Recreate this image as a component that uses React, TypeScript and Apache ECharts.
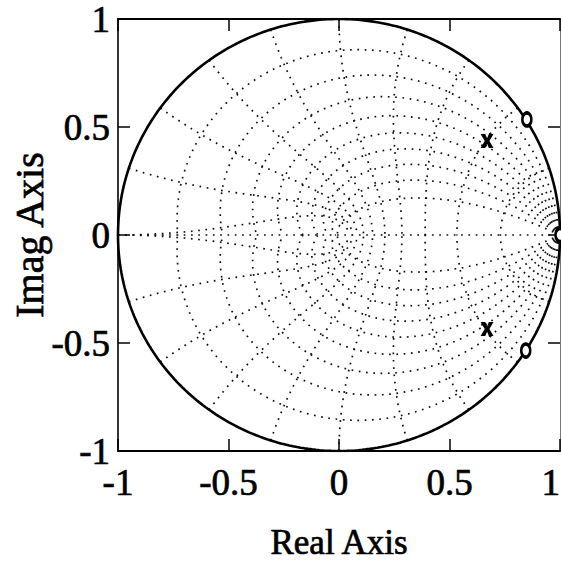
import { useEffect, useRef } from 'react';
import * as echarts from 'echarts';

// Axis ticks
const xTickValues = [-1, -0.5, 0, 0.5, 1];
const yTickValues = [-1, -0.5, 0, 0.5, 1];

// zgrid parameters: damping ratios and normalised natural frequencies
const zetaValues = [0.1, 0.2, 0.3, 0.4, 0.5, 0.6, 0.7, 0.8, 0.9];
const wnValues = [0.1, 0.2, 0.3, 0.4, 0.5, 0.6, 0.7, 0.8, 0.9, 1.0];

// Poles (x) and zeros (o)
const poleRe = [0.67, 0.67];
const poleIm = [0.435, -0.435];
const zeroRe = [0.85, 0.845, 1.0];
const zeroIm = [0.535, -0.535, 0];

const FONT = '"Liberation Serif", "Times New Roman", "DejaVu Serif", serif';
const STEPS = 60;

function zetaCurve(zeta: number, sign: number): number[][] {
  const m = zeta / Math.sqrt(1 - zeta * zeta);
  const pts: number[][] = [];
  for (let k = 0; k <= STEPS; k++) {
    const th = (Math.PI * k) / STEPS;
    const r = Math.exp(-m * th);
    pts.push([r * Math.cos(th), sign * r * Math.sin(th)]);
  }
  return pts;
}

function wnCurve(wn: number, sign: number): number[][] {
  const pts: number[][] = [];
  for (let k = 0; k <= STEPS; k++) {
    const phi = Math.PI / 2 + (Math.PI / 2) * (k / STEPS);
    const sr = wn * Math.PI * Math.cos(phi);
    const si = wn * Math.PI * Math.sin(phi);
    const r = Math.exp(sr);
    pts.push([r * Math.cos(si), sign * r * Math.sin(si)]);
  }
  return pts;
}

function unitCircle(): number[][] {
  const pts: number[][] = [];
  for (let k = 0; k <= 360; k++) {
    const a = (Math.PI * 2 * k) / 360;
    pts.push([Math.cos(a), Math.sin(a)]);
  }
  return pts;
}

const dotted = { color: '#111', width: 1.7, type: [1.7, 5.6] as number[] };
const heavy = { textBorderColor: '#000', textBorderWidth: 0.7 };

export default function App() {
  const ref = useRef<HTMLDivElement>(null);
  useEffect(() => {
    if (!ref.current) return;
    const chart = echarts.init(ref.current, null, { renderer: 'svg' });
    const gridSeries: any[] = [];
    const addCurve = (data: number[][]) =>
      gridSeries.push({
        type: 'line',
        data,
        showSymbol: false,
        silent: true,
        lineStyle: dotted,
        xAxisIndex: 0,
        yAxisIndex: 0,
        z: 1,
      });
    zetaValues.forEach((z) => {
      addCurve(zetaCurve(z, 1));
      addCurve(zetaCurve(z, -1));
    });
    wnValues.forEach((w) => {
      addCurve(wnCurve(w, 1));
      addCurve(wnCurve(w, -1));
    });
    addCurve([
      [-1, 0],
      [1, 0],
    ]);

    const axisCommon = {
      type: 'value',
      min: -1,
      max: 1,
      interval: 0.5,
      splitLine: { show: false },
    };

    chart.setOption({
      animation: false,
      grid: {
        left: 118,
        right: 1,
        top: 19,
        bottom: 114,
        containLabel: false,
        outerBoundsMode: 'none',
      },
      xAxis: [
        {
          ...axisCommon,
          position: 'bottom',
          name: 'Real Axis',
          nameLocation: 'middle',
          nameGap: 74,
          nameMoveOverlap: false,
          nameTextStyle: { fontFamily: FONT, fontSize: 35, color: '#000', ...heavy },
          axisLine: { show: true, onZero: false, lineStyle: { color: '#000', width: 2 } },
          axisTick: { show: true, inside: true, length: 12, lineStyle: { color: '#000', width: 1.5 } },
          axisLabel: {
            show: true,
            margin: 13,
            fontFamily: FONT,
            fontSize: 37,
            color: '#000',
            alignMaxLabel: 'right',
            ...heavy,
            formatter: (v: number) => (xTickValues.includes(v) ? String(v) : ''),
          },
        },
        {
          ...axisCommon,
          position: 'top',
          axisLine: { show: true, onZero: false, lineStyle: { color: '#000', width: 2.2 } },
          axisTick: { show: true, inside: true, length: 12, lineStyle: { color: '#000', width: 1.5 } },
          axisLabel: { show: false },
        },
      ],
      yAxis: [
        {
          ...axisCommon,
          position: 'left',
          name: 'Imag Axis',
          nameLocation: 'middle',
          nameGap: 69,
          nameMoveOverlap: false,
          nameRotate: 90,
          nameTextStyle: { fontFamily: FONT, fontSize: 40, color: '#000', ...heavy },
          axisLine: { show: true, onZero: false, lineStyle: { color: '#000', width: 1.6 } },
          axisTick: { show: true, inside: true, length: 12, lineStyle: { color: '#000', width: 1.5 } },
          axisLabel: {
            show: true,
            margin: 8,
            fontFamily: FONT,
            fontSize: 37,
            color: '#000',
            ...heavy,
            formatter: (v: number) => (yTickValues.includes(v) ? String(v) : ''),
          },
        },
        {
          ...axisCommon,
          position: 'right',
          axisLine: { show: true, onZero: false, lineStyle: { color: '#777', width: 1 } },
          axisTick: { show: true, inside: true, length: 12, lineStyle: { color: '#000', width: 1.5 } },
          axisLabel: { show: false },
        },
      ],
      series: [
        ...gridSeries,
        {
          type: 'line',
          data: unitCircle(),
          showSymbol: false,
          silent: true,
          lineStyle: { color: '#000', width: 2.6 },
          z: 3,
        },
        {
          type: 'scatter',
          data: poleRe.map((x, i) => [x, poleIm[i]]),
          symbol:
            'path://M0,0 L3.6,0 L5,3 L6.4,0 L10,0 L6.8,5 L10,10 L6.4,10 L5,7 L3.6,10 L0,10 L3.2,5 Z',
          symbolSize: [13, 14],
          itemStyle: { color: '#000', opacity: 1 },
          z: 5,
        },
        {
          type: 'scatter',
          data: zeroRe.map((x, i) => [x, zeroIm[i]]),
          symbol: 'circle',
          symbolSize: [9, 13],
          itemStyle: { color: '#fff', borderColor: '#000', borderWidth: 3, opacity: 1 },
          z: 5,
        },
      ],
    });
    return () => chart.dispose();
  }, []);
  return (
    <div
      ref={ref}
      style={{ position: 'fixed', left: 0, top: 0, width: 561, height: 565, background: '#fff' }}
    />
  );
}
